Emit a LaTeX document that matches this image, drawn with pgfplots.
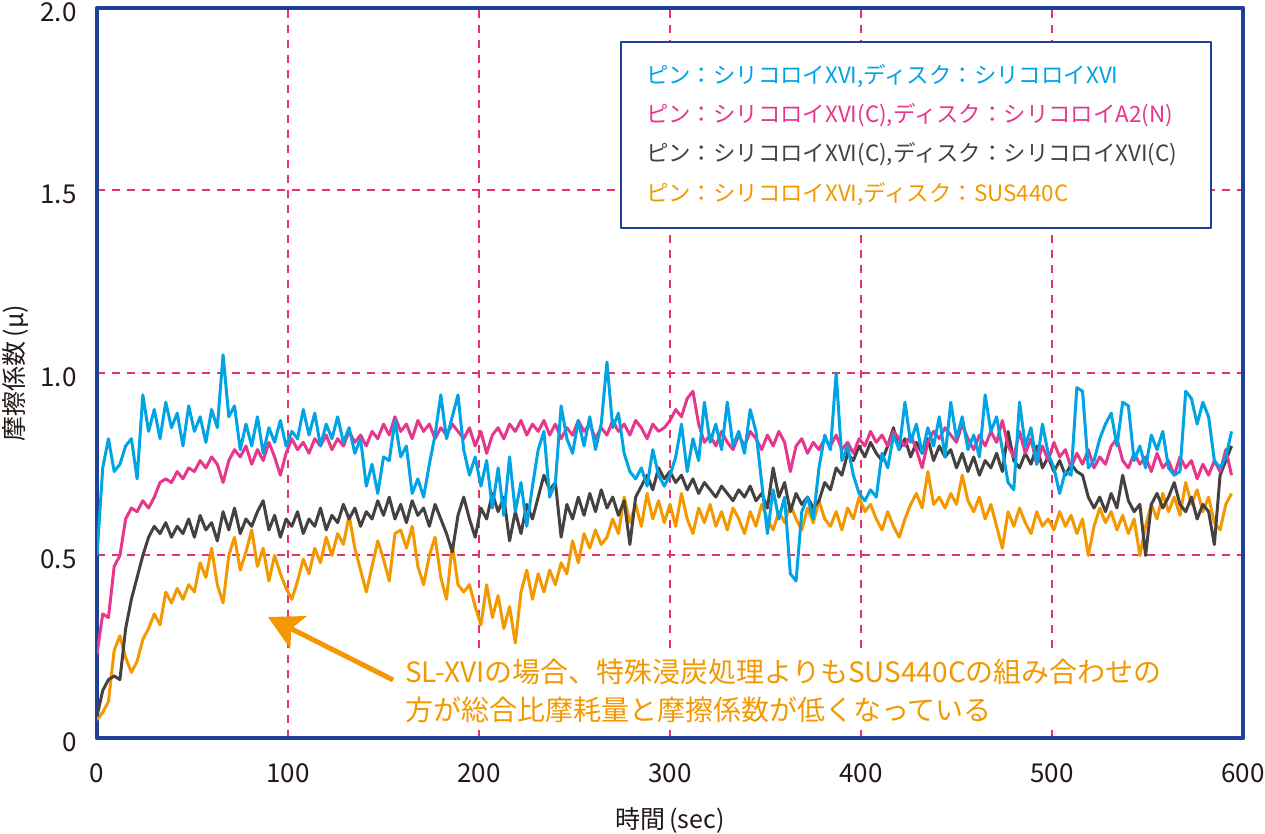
\documentclass[border=0pt]{standalone}
\usepackage{fontspec}
\setmainfont{Noto Sans CJK JP}
\usepackage{pgfplots}
\usepackage{pgfplotstable}
\pgfplotsset{compat=1.18}
\usetikzlibrary{arrows.meta,calc}
\definecolor{cblue}{RGB}{0,163,228}
\definecolor{cpink}{RGB}{230,55,140}
\definecolor{cgray}{RGB}{70,65,65}
\definecolor{corange}{RGB}{243,152,0}
\definecolor{cframe}{RGB}{30,65,150}
\definecolor{cgrid}{RGB}{232,50,110}
\definecolor{ctext}{RGB}{35,24,21}
\pgfplotstableread{
t B P G O
0 0.50 0.23 0.06 0.05
3 0.74 0.34 0.13 0.07
6 0.82 0.33 0.16 0.10
9 0.73 0.47 0.17 0.24
12 0.75 0.50 0.16 0.28
15 0.80 0.60 0.30 0.22
18 0.82 0.63 0.38 0.18
21 0.71 0.62 0.44 0.21
24 0.94 0.65 0.50 0.27
27 0.84 0.63 0.55 0.30
30 0.90 0.66 0.58 0.34
33 0.82 0.70 0.56 0.31
36 0.92 0.71 0.59 0.40
39 0.85 0.70 0.55 0.37
42 0.89 0.73 0.58 0.41
45 0.80 0.71 0.56 0.38
48 0.91 0.74 0.60 0.42
51 0.84 0.73 0.55 0.40
54 0.88 0.76 0.61 0.48
57 0.81 0.74 0.57 0.44
60 0.90 0.77 0.59 0.52
63 0.85 0.75 0.54 0.42
66 1.05 0.70 0.62 0.37
69 0.88 0.76 0.57 0.50
72 0.91 0.79 0.63 0.55
75 0.79 0.77 0.56 0.46
78 0.86 0.80 0.60 0.51
81 0.80 0.75 0.58 0.57
84 0.88 0.79 0.62 0.47
87 0.78 0.76 0.65 0.52
90 0.85 0.81 0.57 0.43
93 0.81 0.77 0.61 0.50
96 0.87 0.72 0.55 0.45
99 0.80 0.78 0.60 0.41
102 0.84 0.82 0.58 0.38
105 0.82 0.79 0.62 0.43
108 0.90 0.81 0.56 0.49
111 0.83 0.78 0.60 0.45
114 0.89 0.82 0.58 0.52
117 0.80 0.80 0.63 0.48
120 0.86 0.83 0.57 0.55
123 0.82 0.79 0.61 0.50
126 0.88 0.82 0.59 0.56
129 0.81 0.80 0.64 0.53
132 0.85 0.84 0.60 0.61
135 0.78 0.81 0.63 0.52
138 0.82 0.83 0.58 0.46
141 0.69 0.80 0.62 0.40
144 0.75 0.84 0.60 0.47
147 0.67 0.82 0.65 0.54
150 0.77 0.86 0.61 0.49
153 0.76 0.83 0.66 0.43
156 0.87 0.88 0.60 0.56
159 0.77 0.84 0.64 0.57
162 0.80 0.86 0.59 0.52
165 0.67 0.82 0.65 0.58
168 0.71 0.87 0.61 0.47
171 0.66 0.84 0.63 0.42
174 0.75 0.86 0.58 0.50
177 0.83 0.82 0.64 0.55
180 0.94 0.85 0.60 0.44
183 0.82 0.83 0.56 0.38
186 0.88 0.86 0.51 0.53
189 0.94 0.84 0.61 0.42
192 0.79 0.82 0.66 0.40
195 0.72 0.85 0.60 0.42
198 0.77 0.80 0.55 0.36
201 0.69 0.84 0.63 0.31
204 0.76 0.78 0.60 0.42
207 0.63 0.83 0.67 0.33
210 0.74 0.85 0.62 0.39
213 0.61 0.82 0.66 0.30
216 0.77 0.86 0.54 0.36
219 0.62 0.84 0.62 0.26
222 0.70 0.87 0.56 0.40
225 0.58 0.83 0.64 0.46
228 0.69 0.86 0.60 0.38
231 0.79 0.84 0.66 0.45
234 0.84 0.87 0.72 0.40
237 0.66 0.83 0.68 0.46
240 0.70 0.86 0.70 0.42
243 0.91 0.82 0.55 0.48
246 0.82 0.85 0.64 0.45
249 0.78 0.83 0.60 0.54
252 0.87 0.87 0.66 0.48
255 0.80 0.84 0.61 0.56
258 0.88 0.86 0.67 0.52
261 0.79 0.82 0.62 0.57
264 0.86 0.85 0.68 0.53
267 1.03 0.83 0.63 0.55
270 0.85 0.87 0.66 0.60
273 0.89 0.84 0.61 0.56
276 0.78 0.86 0.65 0.66
279 0.73 0.83 0.53 0.59
282 0.71 0.87 0.66 0.64
285 0.74 0.85 0.69 0.58
288 0.69 0.82 0.72 0.67
291 0.79 0.86 0.68 0.60
294 0.72 0.84 0.74 0.65
297 0.69 0.85 0.71 0.59
300 0.72 0.87 0.73 0.64
303 0.77 0.90 0.70 0.58
306 0.86 0.88 0.72 0.67
309 0.73 0.93 0.68 0.60
312 0.82 0.95 0.71 0.56
315 0.76 0.86 0.67 0.63
318 0.92 0.81 0.70 0.59
321 0.81 0.83 0.68 0.64
324 0.86 0.80 0.66 0.58
327 0.79 0.84 0.69 0.62
330 0.92 0.81 0.67 0.57
333 0.80 0.79 0.65 0.63
336 0.84 0.83 0.68 0.60
339 0.78 0.80 0.66 0.56
342 0.90 0.84 0.69 0.62
345 0.84 0.82 0.65 0.58
348 0.70 0.79 0.67 0.64
351 0.56 0.83 0.63 0.60
354 0.68 0.80 0.74 0.57
357 0.60 0.84 0.66 0.62
360 0.66 0.81 0.70 0.59
363 0.45 0.73 0.62 0.64
366 0.43 0.80 0.67 0.60
369 0.62 0.82 0.64 0.57
372 0.66 0.78 0.66 0.63
375 0.60 0.81 0.63 0.59
378 0.74 0.79 0.65 0.65
381 0.83 0.82 0.70 0.60
384 0.79 0.80 0.68 0.58
387 1.00 0.83 0.74 0.62
390 0.76 0.79 0.72 0.57
393 0.80 0.81 0.78 0.63
396 0.72 0.78 0.76 0.60
399 0.67 0.82 0.80 0.66
402 0.65 0.80 0.77 0.62
405 0.68 0.84 0.81 0.64
408 0.66 0.81 0.78 0.60
411 0.78 0.83 0.76 0.57
414 0.74 0.80 0.80 0.62
417 0.83 0.84 0.85 0.58
420 0.79 0.82 0.79 0.55
423 0.92 0.80 0.82 0.60
426 0.81 0.83 0.77 0.64
429 0.86 0.79 0.81 0.67
432 0.78 0.74 0.78 0.63
435 0.85 0.81 0.82 0.73
438 0.80 0.84 0.76 0.64
441 0.88 0.82 0.80 0.66
444 0.77 0.85 0.77 0.63
447 0.92 0.83 0.79 0.67
450 0.82 0.81 0.74 0.64
453 0.88 0.86 0.78 0.72
456 0.79 0.82 0.73 0.65
459 0.83 0.79 0.77 0.62
462 0.77 0.83 0.72 0.66
465 0.94 0.80 0.76 0.60
468 0.84 0.84 0.74 0.64
471 0.88 0.81 0.78 0.58
474 0.79 0.87 0.73 0.52
477 0.70 0.80 0.84 0.62
480 0.68 0.77 0.76 0.58
483 0.92 0.84 0.74 0.63
486 0.80 0.78 0.78 0.59
489 0.85 0.82 0.75 0.56
492 0.75 0.75 0.80 0.62
495 0.86 0.80 0.74 0.58
498 0.78 0.76 0.77 0.60
501 0.74 0.81 0.73 0.57
504 0.67 0.77 0.76 0.62
507 0.73 0.79 0.72 0.58
510 0.72 0.74 0.75 0.61
513 0.96 0.78 0.73 0.56
516 0.95 0.75 0.72 0.60
519 0.74 0.79 0.66 0.50
522 0.76 0.74 0.63 0.58
525 0.82 0.77 0.66 0.63
528 0.86 0.75 0.62 0.59
531 0.89 0.80 0.67 0.62
534 0.80 0.82 0.63 0.57
537 0.92 0.76 0.72 0.61
540 0.91 0.74 0.65 0.56
543 0.76 0.78 0.62 0.60
546 0.80 0.75 0.64 0.50
549 0.74 0.77 0.50 0.58
552 0.83 0.73 0.64 0.64
555 0.79 0.78 0.67 0.60
558 0.84 0.74 0.63 0.67
561 0.74 0.76 0.66 0.62
564 0.72 0.72 0.70 0.66
567 0.73 0.77 0.64 0.61
570 0.95 0.74 0.62 0.70
573 0.93 0.76 0.66 0.64
576 0.86 0.71 0.60 0.68
579 0.92 0.75 0.64 0.62
582 0.88 0.72 0.62 0.66
585 0.76 0.76 0.53 0.59
588 0.74 0.73 0.72 0.57
591 0.77 0.79 0.76 0.64
594 0.84 0.72 0.80 0.67
}\data
\begin{document}
\begin{tikzpicture}
\begin{axis}[
  at={(0,0)}, anchor=south west,
  width=573bp, height=365bp, scale only axis,
  xmin=0, xmax=600, ymin=0, ymax=2,
  xtick={0,100,...,600},
  ytick={0,0.5,1,1.5,2},
  yticklabels={0,0.5,1.0,1.5,2.0},
  major tick length=0pt,
  grid=major,
  major grid style={color=cgrid, line width=1bp, dash pattern=on 4bp off 3.5bp},
  axis line style={color=cframe, line width=2.2bp},
  /pgf/number format/assume math mode=true,
  tick label style={font=\fontsize{13bp}{13bp}\selectfont, text=ctext},
  xticklabel style={anchor=center, yshift=-17.5bp},
  yticklabel style={anchor=east, xshift=-6.7bp, yshift=-2bp},
  xlabel={時間\,(sec)},
  ylabel={摩擦係数\,(μ)},
  label style={font=\fontsize{12.5bp}{12.5bp}\selectfont, text=ctext},
  xlabel style={at={($(axis description cs:0.5,0)+(0,-41bp)$)}, anchor=center},
  ylabel style={at={($(axis description cs:0,0.5)+(-41bp,0)$)}, anchor=center},
  line join=round,
]
\addplot[corange, line width=1.5bp, no markers] table[x=t, y=O] {\data};
\addplot[cgray, line width=1.5bp, no markers] table[x=t, y=G] {\data};
\addplot[cpink, line width=1.5bp, no markers] table[x=t, y=P] {\data};
\addplot[cblue, line width=1.5bp, no markers] table[x=t, y=B] {\data};
\node[draw=cframe, line width=1bp, fill=white, anchor=north west,
      minimum width=295bp, minimum height=93bp, text width=270bp,
      inner xsep=12.5bp, align=left,
      font=\fontsize{11.2bp}{19.7bp}\selectfont]
  at (rel axis cs:0.4564,0.955)
  {\textcolor{cblue}{ピン：シリコロイXVI,ディスク：シリコロイXVI}\\
   \textcolor{cpink}{ピン：シリコロイXVI(C),ディスク：シリコロイA2(N)}\\
   \textcolor{cgray}{ピン：シリコロイXVI(C),ディスク：シリコロイXVI(C)}\\
   \textcolor{corange}{ピン：シリコロイXVI,ディスク：SUS440C}};
\draw[corange, line width=2.5bp, -{Stealth[length=17bp, width=18bp, inset=4bp]}]
  (axis cs:155,0.159) -- (axis cs:89.5,0.3315);
\node[anchor=west, fill=white, align=left, text=corange, inner xsep=4bp, inner ysep=3bp,
      font=\fontsize{14bp}{19bp}\selectfont]
  at (axis cs:157,0.129)
  {SL-XVIの場合、特殊浸炭処理よりもSUS440Cの組み合わせの\\方が総合比摩耗量と摩擦係数が低くなっている};
\end{axis}
\pgfresetboundingbox
\path[use as bounding box] (-48.5bp,-48bp) rectangle (584bp,369bp);
\end{tikzpicture}
\end{document}
